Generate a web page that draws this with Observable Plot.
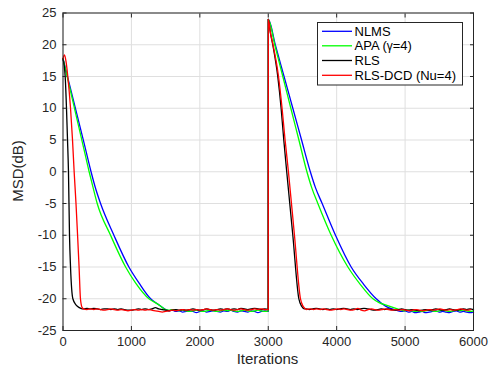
<!DOCTYPE html>
<html><head><meta charset="utf-8">
<script src="https://cdn.jsdelivr.net/npm/d3@7"></script>
<script src="https://cdn.jsdelivr.net/npm/@observablehq/plot@0.6"></script>
<style>body{margin:0;background:#fff} #chart{width:492px;height:371px}</style>
</head><body><div id="chart"></div><script>
// ---- data ----
const seriesNames = ["NLMS", "APA (γ=4)", "RLS", "RLS-DCD (Nu=4)"];
const seriesColors = ["#0000ff", "#00ff00", "#000000", "#ff0000"];
const xTicks = [0, 1000, 2000, 3000, 4000, 5000, 6000];
const yTicks = [-25, -20, -15, -10, -5, 0, 5, 10, 15, 20, 25];

// NLMS
const nlmsIter1 = [0, 100, 200, 300, 410, 470, 549, 744, 963, 1110, 1281, 1380, 1500];
const nlmsMsd1  = [17.8, 13.5, 9.2, 4.85, 0, -2.4, -5, -10, -15, -17.5, -20, -20.8, -21.7];
const nlmsFloor1Start = 1550;
const nlmsFloor1 = [-21.9,-21.8,-22.0,-21.9,-22.1,-22.0,-21.9,-22.0,-22.2,-22.0,-21.9,-22.1,-22.0,-21.9,-22.0,-22.1,-21.9,-22.0,-21.8,-22.0,-22.1,-21.9,-22.0,-22.1,-21.9,-22.0,-22.2,-22.0,-21.9];
const nlmsIter2 = [3000, 3001, 3103, 3231, 3359, 3487, 3615, 3690, 3788, 3983, 4212, 4400, 4578, 4720, 4871];
const nlmsMsd2  = [-22.0, 24.0, 20, 15, 10, 5, 0, -2.5, -5, -10, -15, -17.8, -20, -21.2, -21.8];
const nlmsFloor2Start = 4900;
const nlmsFloor2 = [-21.9,-22.0,-21.9,-22.1,-22.0,-22.2,-22.1,-22.0,-22.2,-22.1,-22.0,-21.9,-22.1,-22.0,-22.1,-22.2,-22.0,-21.9,-22.1,-22.0,-22.1,-22.2,-22.1];

// APA
const apaIter1 = [0, 100, 200, 300, 382, 440, 500, 695, 915, 1060, 1256, 1330, 1420, 1476];
const apaMsd1  = [17.8, 13.15, 8.5, 3.85, 0, -2.5, -5, -10, -15, -17.5, -20, -20.5, -21.1, -21.6];
const apaFloor1Start = 1500;
const apaFloor1 = [-21.7,-21.8,-21.7,-21.8,-21.9,-21.8,-21.9,-22.0,-21.9,-21.8,-21.9,-22.0,-21.9,-21.8,-21.9,-22.0,-21.9,-21.8,-21.9,-21.8,-21.9,-22.0,-21.9,-21.8,-21.9,-22.0,-21.9,-21.8,-21.9,-22.0];
const apaIter2 = [3000, 3001, 3095, 3213, 3330, 3448, 3565, 3635, 3725, 3920, 4164, 4350, 4530, 4620, 4724, 4920];
const apaMsd2  = [-21.9, 24.0, 20, 15, 10, 5, 0, -2.5, -5, -10, -15, -17.8, -20, -20.6, -21.0, -21.7];
const apaFloor2Start = 4950;
const apaFloor2 = [-21.8,-21.9,-21.8,-21.9,-22.0,-21.9,-22.0,-21.9,-21.8,-21.9,-22.0,-21.9,-21.8,-21.9,-22.0,-21.9,-21.8,-21.9,-21.8,-21.9,-22.0,-21.9];

// RLS
const rlsIter1 = [0, 32, 51, 66, 80, 95, 110, 144, 193, 240, 281];
const rlsMsd1  = [17.8, 15, 10, 5, 0, -10, -15, -20, -21, -21.4, -21.6];
const rlsFloor1Start = 300;
const rlsFloor1 = [-21.6,-21.5,-21.6,-21.5,-21.6,-21.7,-21.6,-21.6,-21.7,-21.6,-21.7,-21.6,-21.7,-21.8,-21.8,-21.7,-21.6,-21.7,-21.6,-21.7,-21.6,-21.4,-21.6,-21.7,-21.8,-21.9,-21.8,-21.7,-21.8,-21.7,-21.8,-21.7,-21.6,-21.7,-21.8,-21.7,-21.6,-21.7,-21.8,-21.7,-21.6,-21.7,-21.6,-21.7,-21.6,-21.7,-21.5,-21.6,-21.7,-21.6,-21.5,-21.6,-21.7,-21.6];
const rlsIter2 = [3000, 3001, 3030, 3066, 3139, 3188, 3227, 3270, 3359, 3447, 3490, 3530];
const rlsMsd2  = [-21.7, 24.0, 22, 20, 15, 10, 5, 0, -10, -20, -21.2, -21.6];
const rlsFloor2Start = 3550;
const rlsFloor2 = [-21.6,-21.7,-21.6,-21.5,-21.6,-21.7,-21.6,-21.7,-21.6,-21.7,-21.6,-21.5,-21.6,-21.7,-21.6,-21.7,-21.6,-21.5,-21.6,-21.7,-21.8,-21.7,-21.6,-21.7,-21.6,-21.7,-21.8,-21.7,-21.6,-21.7,-21.8,-21.7,-21.8,-21.9,-21.8,-21.7,-21.8,-21.7,-21.6,-21.7,-21.8,-21.7,-21.6,-21.7,-21.8,-21.7,-21.6,-21.7,-21.6,-21.7];

// RLS-DCD
const dcdIter1 = [0, 22, 45, 70, 110, 139, 163, 190, 213, 235, 255, 280];
const dcdMsd1  = [17.8, 18.4, 17.3, 15, 10, 5, 0, -5, -10, -15, -20, -21.4];
const dcdFloor1Start = 300;
const dcdFloor1 = [-21.6,-21.7,-21.6,-21.7,-21.6,-21.7,-21.8,-21.7,-21.6,-21.7,-21.8,-21.7,-21.8,-21.9,-21.8,-21.7,-21.8,-21.7,-21.8,-21.7,-21.8,-21.9,-22.0,-22.1,-22.0,-21.9,-21.8,-21.9,-21.8,-21.7,-21.8,-21.7,-21.8,-21.7,-21.8,-21.7,-21.6,-21.7,-21.8,-21.7,-21.8,-21.7,-21.6,-21.7,-21.8,-21.7,-21.6,-21.7,-21.8,-21.7,-21.6,-21.7,-21.6,-21.7];
const dcdIter2 = [3000, 3001, 3030, 3070, 3150, 3202, 3246, 3295, 3383, 3471, 3510, 3545];
const dcdMsd2  = [-21.7, 24.0, 22, 20, 15, 10, 5, 0, -10, -20, -21.2, -21.6];
const dcdFloor2Start = 3560;
const dcdFloor2 = [-21.7,-21.6,-21.7,-21.6,-21.7,-21.6,-21.7,-21.8,-21.7,-21.6,-21.7,-21.6,-21.7,-21.8,-21.7,-21.5,-21.8,-21.9,-21.7,-21.6,-21.7,-21.8,-21.7,-21.6,-21.7,-21.8,-21.7,-21.8,-21.7,-21.8,-21.9,-21.8,-21.7,-21.8,-21.9,-21.8,-21.7,-21.8,-21.7,-21.6,-21.7,-21.8,-21.7,-21.8,-21.7,-21.6,-21.7,-21.8,-21.7];

const floorStep = 50;

// ---- table ----
function build(name, it1, m1, f1s, f1, it2, m2, f2s, f2) {
  const rows = [];
  it1.forEach((x, i) => rows.push({series: name, x, y: m1[i]}));
  f1.forEach((y, i) => rows.push({series: name, x: f1s + floorStep * i, y}));
  it2.forEach((x, i) => rows.push({series: name, x, y: m2[i]}));
  f2.forEach((y, i) => rows.push({series: name, x: Math.min(6000, f2s + floorStep * i), y}));
  return rows;
}
const data = [
  ...build(seriesNames[0], nlmsIter1, nlmsMsd1, nlmsFloor1Start, nlmsFloor1, nlmsIter2, nlmsMsd2, nlmsFloor2Start, nlmsFloor2),
  ...build(seriesNames[1], apaIter1, apaMsd1, apaFloor1Start, apaFloor1, apaIter2, apaMsd2, apaFloor2Start, apaFloor2),
  ...build(seriesNames[2], rlsIter1, rlsMsd1, rlsFloor1Start, rlsFloor1, rlsIter2, rlsMsd2, rlsFloor2Start, rlsFloor2),
  ...build(seriesNames[3], dcdIter1, dcdMsd1, dcdFloor1Start, dcdFloor1, dcdIter2, dcdMsd2, dcdFloor2Start, dcdFloor2)
];

const font = "'Liberation Sans', Arial, Helvetica, sans-serif";
const ink = "#262626";

const chart = Plot.plot({
  width: 492, height: 371,
  marginLeft: 62.5, marginRight: 19, marginTop: 12.5, marginBottom: 41,
  style: {fontFamily: font, fontSize: "13px", color: ink, background: "#fff", overflow: "visible"},
  x: {domain: [0, 6000]},
  y: {domain: [-25, 25]},
  color: {domain: seriesNames, range: seriesColors},
  marks: [
    Plot.gridX(xTicks, {stroke: "#dfdfdf", strokeOpacity: 1}),
    Plot.gridY(yTicks, {stroke: "#dfdfdf", strokeOpacity: 1}),
    Plot.line(data, {x: "x", y: "y", z: "series", stroke: "series", strokeWidth: 1.3, curve: "monotone-x"}),
    Plot.frame({stroke: ink, strokeWidth: 1}),
    Plot.axisX(xTicks, {anchor: "bottom", tickSize: -4, tickPadding: 10, tickFormat: d => String(d), label: null, stroke: ink, fill: ink}),
    Plot.axisX(xTicks, {anchor: "top", tickSize: -4, tickFormat: () => "", label: null, stroke: ink}),
    Plot.axisY(yTicks, {anchor: "left", tickSize: -4, tickPadding: 10.5, tickFormat: d => String(d), label: null, stroke: ink, fill: ink}),
    Plot.axisY(yTicks, {anchor: "right", tickSize: -4, tickFormat: () => "", label: null, stroke: ink})
  ]
});

const svg = d3.select(chart);
// axis titles
svg.append("text").attr("x", 267.5).attr("y", 364).attr("text-anchor", "middle")
  .attr("font-family", font).attr("font-size", 15).attr("fill", ink).text("Iterations");
svg.append("text").attr("transform", "translate(23,171) rotate(-90)").attr("text-anchor", "middle")
  .attr("font-family", font).attr("font-size", 15).attr("fill", ink).text("MSD(dB)");

// legend
const lg = svg.append("g").attr("font-family", font).attr("font-size", 13).attr("fill", "#000").attr("text-anchor", "start");
lg.append("rect").attr("x", 317.5).attr("y", 22.5).attr("width", 145).attr("height", 62.5)
  .attr("fill", "#fff").attr("stroke", ink).attr("stroke-width", 1);
const rowY = [31.3, 45.8, 60.5, 75.3];
seriesNames.forEach((name, i) => {
  lg.append("line").attr("x1", 322).attr("x2", 352).attr("y1", rowY[i]).attr("y2", rowY[i])
    .attr("stroke", seriesColors[i]).attr("stroke-width", 1.3);
  const t = lg.append("text").attr("x", 354.5).attr("y", rowY[i]).attr("dy", "0.36em").attr("text-anchor", "start");
  if (name.includes("γ")) {
    t.append("tspan").text("APA (");
    t.append("tspan").attr("font-size", 12).text("γ");
    t.append("tspan").text("=4)");
  } else t.text(name);
});

document.getElementById("chart").appendChild(chart);
</script></body></html>
